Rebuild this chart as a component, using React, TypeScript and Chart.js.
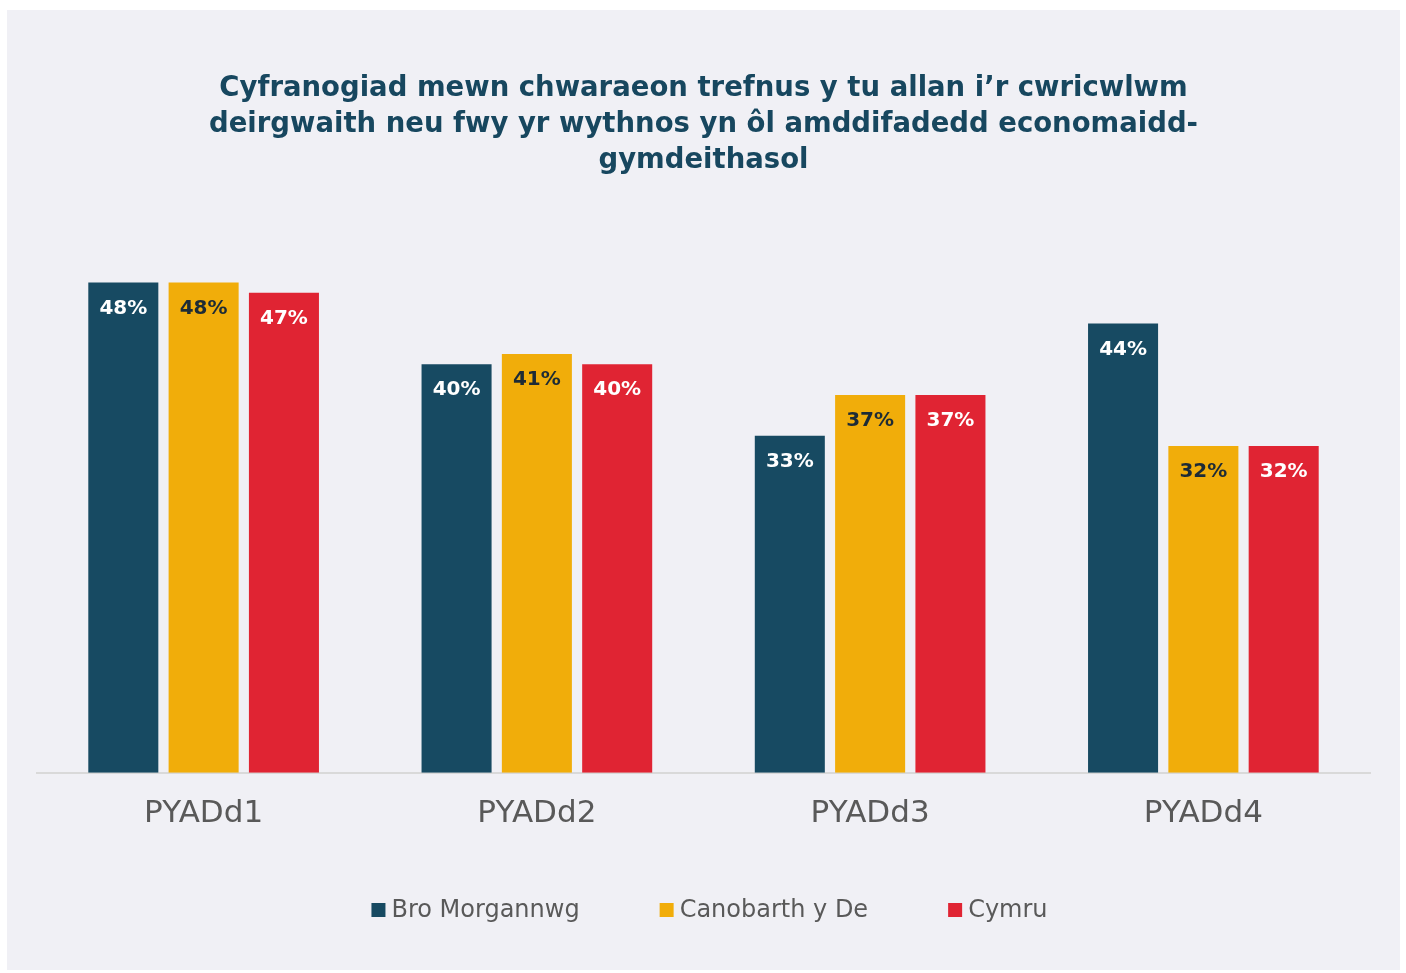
import React, { useEffect, useRef } from "react";
import { Chart, registerables } from "chart.js";

Chart.register(...registerables);

const categories = ["PYADd1", "PYADd2", "PYADd3", "PYADd4"];
const seriesNames = ["Bro Morgannwg", "Canobarth y De", "Cymru"];
const broMorgannwg = [48, 40, 33, 44];
const canobarthYDe = [48, 41, 37, 32];
const cymru = [47, 40, 37, 32];
const titleLines = [
  "Cyfranogiad mewn chwaraeon trefnus y tu allan i\u2019r cwricwlwm",
  "deirgwaith neu fwy yr wythnos yn \u00f4l amddifadedd economaidd-",
  "gymdeithasol",
];

const COLORS = ["#174a62", "#f1ad0a", "#e02433"];
const LABEL_COLORS = ["#ffffff", "#1d2b36", "#ffffff"];
const FONT = "'DejaVu Sans', 'Noto Sans', sans-serif";

const valueLabels = {
  id: "valueLabels",
  afterDatasetsDraw(chart: any) {
    const ctx = chart.ctx;
    ctx.save();
    ctx.font = `bold 20px ${FONT}`;
    ctx.textAlign = "center";
    ctx.textBaseline = "middle";
    chart.data.datasets.forEach((ds: any, di: number) => {
      const meta = chart.getDatasetMeta(di);
      meta.data.forEach((el: any, i: number) => {
        ctx.fillStyle = LABEL_COLORS[di];
        ctx.fillText(`${ds.data[i]}%`, el.x, el.y + 26);
      });
    });
    ctx.restore();
  },
};

const bottomLegend = {
  id: "bottomLegend",
  afterDraw(chart: any) {
    const ctx = chart.ctx;
    ctx.save();
    ctx.font = `24px ${FONT}`;
    ctx.textBaseline = "middle";
    const box = 14;
    const gapBoxText = 6;
    const gapItems = 80;
    const widths = chart.data.datasets.map(
      (ds: any) => box + gapBoxText + ctx.measureText(ds.label).width
    );
    const total = widths.reduce((a: number, b: number) => a + b, 0) + gapItems * (widths.length - 1);
    let x = (chart.width - total) / 2 + 6;
    const y = chart.height - 60;
    chart.data.datasets.forEach((ds: any, i: number) => {
      ctx.fillStyle = ds.backgroundColor;
      ctx.fillRect(x, y - box / 2, box, box);
      ctx.fillStyle = "#595959";
      ctx.fillText(ds.label, x + box + gapBoxText, y + 1);
      x += widths[i] + gapItems;
    });
    ctx.restore();
  },
};

export default function App() {
  const ref = useRef<HTMLCanvasElement>(null);
  useEffect(() => {
    if (!ref.current) return;
    const chart = new Chart(ref.current, {
      type: "bar",
      data: {
        labels: categories,
        datasets: [broMorgannwg, canobarthYDe, cymru].map((d, i) => ({
          label: seriesNames[i],
          data: d,
          backgroundColor: COLORS[i],
          categoryPercentage: 0.723,
          barPercentage: 0.872,
        })),
      },
      options: {
        animation: false,
        responsive: false,
        maintainAspectRatio: false,
        layout: { padding: { left: 30, right: 30, top: 0, bottom: 122 } },
        plugins: {
          title: {
            display: true,
            text: titleLines,
            color: "#17475f",
            font: { family: FONT, size: 27.5, weight: "bold", lineHeight: 1.31 },
            padding: { top: 61, bottom: 32 },
          },
          legend: { display: false },
          tooltip: { enabled: false },
        },
        scales: {
          x: {
            grid: { display: false },
            border: { color: "#d9d9d9", width: 2 },
            ticks: { color: "#595959", font: { family: FONT, size: 31 }, padding: 15 },
          },
          y: {
            display: false,
            min: 0,
            max: 55,
          },
        },
      },
      plugins: [valueLabels, bottomLegend],
    });
    return () => chart.destroy();
  }, []);
  return (
    <div
      style={{
        position: "absolute",
        left: 7,
        top: 10,
        width: 1393,
        height: 960,
        background: "#f0f0f5",
      }}
    >
      <canvas ref={ref} width={1393} height={960} style={{ display: "block" }} />
    </div>
  );
}
